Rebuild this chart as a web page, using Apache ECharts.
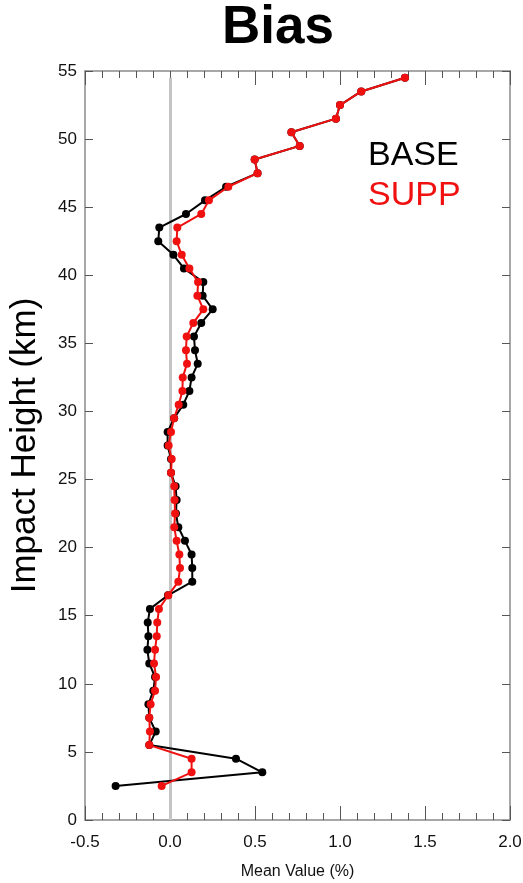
<!DOCTYPE html>
<html>
<head>
<meta charset="utf-8">
<script src="https://cdn.jsdelivr.net/npm/echarts@6/dist/echarts.min.js"></script>
<style>
html,body{margin:0;padding:0;background:#fff;}
#chart{width:523px;height:883px;}
</style>
</head>
<body>
<div id="chart"></div>
<script>
// Impact heights (km)
var heights = [2.5,3.5,4.5,5.5,6.5,7.5,8.5,9.5,10.5,11.5,12.5,13.5,14.5,15.5,16.5,17.5,18.5,19.5,20.5,21.5,22.5,23.5,24.5,25.5,26.5,27.5,28.5,29.5,30.5,31.5,32.5,33.5,34.5,35.5,36.5,37.5,38.5,39.5,40.5,41.5,42.5,43.5,44.5,45.5,46.5,47.5,48.5,49.5,50.5,51.5,52.5,53.5,54.5];
// Mean bias (%) for BASE
var baseVals = [-0.32,0.543,0.388,-0.122,-0.084,-0.122,-0.127,-0.098,-0.088,-0.122,-0.133,-0.127,-0.131,-0.118,-0.012,0.131,0.131,0.127,0.088,0.049,0.035,0.039,0.033,0.006,0.006,-0.014,-0.014,0.024,0.078,0.114,0.127,0.163,0.147,0.141,0.184,0.251,0.192,0.196,0.082,0.02,-0.069,-0.063,0.094,0.206,0.33,0.515,0.498,0.763,0.714,0.976,1.0,1.125,1.382];
// Mean bias (%) for SUPP
var suppVals = [-0.049,0.127,0.127,-0.122,-0.118,-0.122,-0.114,-0.088,-0.082,-0.094,-0.088,-0.078,-0.075,-0.065,-0.01,0.049,0.059,0.055,0.039,0.025,0.03,0.027,0.025,0.006,0.01,-0.008,0.006,0.024,0.051,0.073,0.075,0.1,0.094,0.098,0.137,0.196,0.161,0.165,0.114,0.069,0.039,0.043,0.184,0.229,0.343,0.515,0.498,0.763,0.714,0.976,1.0,1.125,1.382];
// Axis ticks
var xTicks = [-0.5,0.0,0.5,1.0,1.5,2.0];
var yTicks = [0,5,10,15,20,25,30,35,40,45,50,55];

var xMin = xTicks[0], xMax = xTicks[xTicks.length-1], xStep = xTicks[1]-xTicks[0];
var yMin = yTicks[0], yMax = yTicks[yTicks.length-1], yStep = yTicks[1]-yTicks[0];

function pairs(vals){ return vals.map(function(v,i){ return [v, heights[i]]; }); }

var frameColor = '#8a8a8a';
var FONT = 'Liberation Sans, Arial, sans-serif';

var chart = echarts.init(document.getElementById('chart'), null, {renderer:'canvas'});
var xBase = {
  type:'value', min:xMin, max:xMax, interval:xStep,
  axisLine:{show:true, onZero:false, lineStyle:{color:frameColor, width:1.5}},
  axisTick:{show:true, inside:true, length:14, lineStyle:{color:'#555', width:1}},
  minorTick:{show:true, splitNumber:5, length:7, lineStyle:{color:'#555', width:1}},
  splitLine:{show:false}
};
var yBase = {
  type:'value', min:yMin, max:yMax, interval:yStep,
  axisLine:{show:true, onZero:false, lineStyle:{color:frameColor, width:1.5}},
  axisTick:{show:true, inside:true, length:8, lineStyle:{color:'#555', width:1}},
  splitLine:{show:false}
};
var option = {
  backgroundColor:'#fff',
  animation:false,
  title:{
    text:'Bias', left:217, top:-3,
    textStyle:{fontFamily:FONT, fontWeight:'bold', fontSize:53, color:'#000'}
  },
  legend:{
    orient:'vertical', left:358, top:134, icon:'none', itemWidth:0, itemHeight:10, itemGap:6,
    selectedMode:false,
    textStyle:{fontFamily:FONT, fontSize:34},
    data:[{name:'BASE', textStyle:{color:'#000'}},{name:'SUPP', textStyle:{color:'#f01010'}}]
  },
  grid:{left:85, right:13, top:71, bottom:63, containLabel:false, outerBoundsMode:'none'},
  xAxis:[
    Object.assign({}, xBase, {
      position:'bottom',
      name:'Mean Value (%)', nameLocation:'middle', nameGap:44,
      nameTextStyle:{fontFamily:FONT, fontSize:16, color:'#111'},
      axisLabel:{show:true, margin:14, fontFamily:FONT, fontSize:17, color:'#111',
        formatter:function(v){ return v.toFixed(1); }}
    }),
    Object.assign({}, xBase, {position:'top', axisLabel:{show:false}})
  ],
  yAxis:[
    Object.assign({}, yBase, {
      position:'left',
      name:'Impact Height (km)', nameLocation:'middle', nameGap:42,
      nameTextStyle:{fontFamily:FONT, fontSize:35, color:'#000'},
      axisLabel:{show:true, margin:8, fontFamily:FONT, fontSize:17, color:'#111'}
    }),
    Object.assign({}, yBase, {position:'right', axisLabel:{show:false}})
  ],
  series:[
    {
      name:'BASE', type:'line', xAxisIndex:0, yAxisIndex:0,
      data:pairs(baseVals),
      symbol:'circle', symbolSize:8, showSymbol:true,
      lineStyle:{color:'#000', width:2}, itemStyle:{color:'#000'},
      z:3,
      markLine:{
        silent:true, symbol:['none','none'], label:{show:false},
        lineStyle:{color:'#c4c4c4', width:3, type:'solid'},
        data:[[{coord:[0,0]},{coord:[0,54.5]}]],
        z:1
      }
    },
    {
      name:'SUPP', type:'line', xAxisIndex:0, yAxisIndex:0,
      data:pairs(suppVals),
      symbol:'circle', symbolSize:8, showSymbol:true,
      lineStyle:{color:'#f01010', width:2}, itemStyle:{color:'#f01010'},
      z:4
    }
  ]
};
chart.setOption(option);
</script>
</body>
</html>
